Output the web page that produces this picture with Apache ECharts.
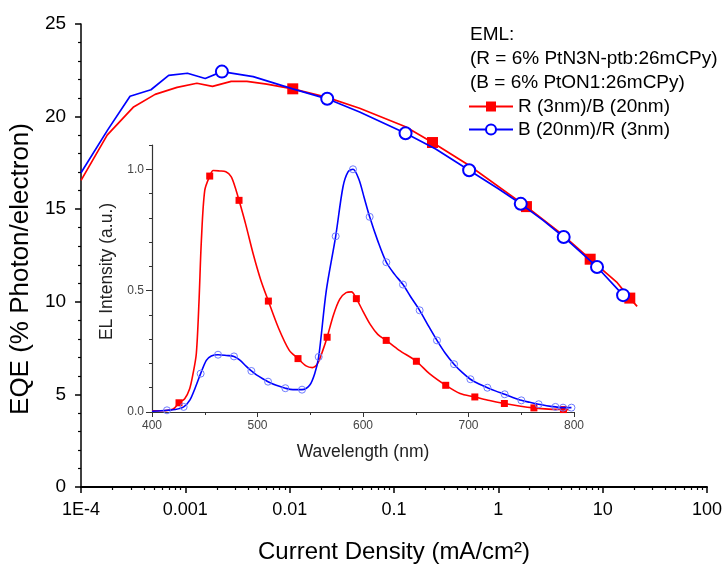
<!DOCTYPE html>
<html>
<head>
<meta charset="utf-8">
<script src="https://cdn.jsdelivr.net/npm/echarts@6/dist/echarts.min.js"></script>
<style>
  html, body { margin: 0; padding: 0; background: #fff; }
  #chart { width: 725px; height: 569px; }
</style>
</head>
<body>
<div id="chart"></div>
<script>
// ---------- Main panel: EQE vs current density ----------
const eqeJ_R = [1e-4, 1.78e-4, 3.16e-4, 5.13e-4, 8.32e-4, 1.29e-3, 1.82e-3, 2.75e-3, 3.89e-3, 6.03e-3,
                0.0107, 0.0224, 0.0468, 0.129, 0.234, 0.513, 1.86, 3.98, 7.59, 13.8, 18.2, 21.4];
const eqe_R  = [16.56, 19.0, 20.5, 21.2, 21.58, 21.8, 21.63, 21.9, 21.9, 21.75,
                21.5, 21.05, 20.45, 19.45, 18.6, 17.4, 15.14, 13.69, 12.3, 11.03, 10.2, 9.75];
const markIdx_R = [10, 14, 16, 18, 20];

const eqeJ_B = [1e-4, 1.795e-4, 2.95e-4, 4.68e-4, 6.92e-4, 1.047e-3, 1.55e-3, 2.24e-3, 4.47e-3, 0.0107,
                0.0229, 0.0468, 0.129, 0.251, 0.525, 1.0, 1.64, 2.69, 4.23, 8.83, 15.7];
const eqe_B  = [16.97, 19.27, 21.1, 21.45, 22.23, 22.34, 22.06, 22.43, 22.16, 21.5,
                20.96, 20.25, 19.1, 18.25, 17.1, 16.1, 15.29, 14.4, 13.5, 11.88, 10.36];
const markIdx_B = [7, 10, 12, 14, 16, 18, 19, 20];

const xTickLabels = {'-4': '1E-4', '-3': '0.001', '-2': '0.01', '-1': '0.1', '0': '1', '1': '10', '2': '100'};

// ---------- Inset: EL spectra ----------
const elWl_R = [400, 410, 420, 425.6, 431, 435.7, 438.9, 442, 444.5, 446.8, 450, 454.7, 458, 464, 470, 475, 478.5,
                482.5, 489, 496, 503, 510.3, 520, 530, 538.4, 546, 552, 557, 562, 566, 572, 578, 584, 589,
                593.7, 600, 607, 614, 622, 634, 650.6, 663, 678.4, 692, 706, 720, 734, 748, 762, 776, 790, 795];
const el_R   = [0.005, 0.005, 0.012, 0.038, 0.055, 0.096, 0.158, 0.24, 0.45, 0.707, 0.913, 0.972, 0.995, 0.993, 0.99, 0.97, 0.93,
                0.872, 0.77, 0.65, 0.545, 0.457, 0.345, 0.255, 0.22, 0.19, 0.183, 0.2, 0.255, 0.308, 0.4, 0.465, 0.492, 0.495,
                0.467, 0.415, 0.36, 0.32, 0.295, 0.255, 0.209, 0.158, 0.11, 0.076, 0.062, 0.047, 0.035, 0.025, 0.017, 0.012, 0.01, 0.009];
const elMark_R = [3, 11, 17, 21, 24, 29, 34, 38, 40, 42, 44, 46, 48, 50];

const elWl_B = [400, 406, 414.2, 422, 430, 436, 441, 446.1, 451.5, 456.2, 462.6, 470.5, 477.7, 483, 489.4, 494.2, 499,
                505, 510, 517.8, 526.4, 533.6, 542.2, 549.4, 554.2, 558, 565.2, 574.1, 581, 585.8, 590.5, 596, 601,
                606.3, 614, 622.1, 630, 637.9, 645, 653.7, 662, 670.1, 678, 686.3, 694, 701.8, 710, 717.9, 726, 734.3,
                742, 750.1, 758, 766.5, 774, 782.4, 789.6, 797.6];
const el_B   = [0.003, 0.004, 0.007, 0.01, 0.021, 0.05, 0.1, 0.158, 0.213, 0.231, 0.236, 0.233, 0.229, 0.215, 0.188, 0.169, 0.153,
                0.137, 0.125, 0.11, 0.098, 0.092, 0.092, 0.11, 0.158, 0.227, 0.5, 0.724, 0.927, 0.989, 1.0, 0.96, 0.885,
                0.804, 0.705, 0.617, 0.567, 0.525, 0.476, 0.419, 0.355, 0.295, 0.242, 0.197, 0.163, 0.135, 0.115, 0.1, 0.086, 0.073,
                0.06, 0.048, 0.04, 0.032, 0.026, 0.021, 0.018, 0.018];
const elMark_B = [2, 4, 7, 10, 12, 15, 18, 20, 22, 25, 27, 30, 33, 35, 37, 39, 41, 43, 45, 47, 49, 51, 53, 55, 56, 57];

// header text
const headerLines = ['EML:', '(R = 6% PtN3N-ptb:26mCPy)', '(B = 6% PtON1:26mCPy)'];

// ---------- build ----------
const FONT = '"Liberation Sans", Arial, sans-serif';
function pairs(xs, ys) { return xs.map((x, i) => [x, ys[i]]); }

// minor tick positions (axis decoration only)
const minorLogJ = [];
for (let d = -4; d < 2; d++) for (let k = 2; k <= 9; k++) minorLogJ.push(d + Math.log10(k));
const minorEQE = [];
for (let v = 1; v < 25; v++) if (v % 5 !== 0) minorEQE.push(v);
const minorWl = [450, 550, 650, 750];
const minorEL = [];
for (let i = 1; i <= 11; i++) if (i !== 5 && i !== 10) minorEL.push(i / 10);

const chart = echarts.init(document.getElementById('chart'), null, { renderer: 'canvas' });

const hiddenLine = { show: false, onZero: false };
const option = {
  animation: false,
  backgroundColor: '#fff',
  textStyle: { fontFamily: FONT },
  grid: [
    { left: 80, top: 24, width: 630, height: 469 },
    { left: 152, top: 145, width: 422, height: 267 }
  ],
  legend: {
    data: ['R (3nm)/B (20nm)', 'B (20nm)/R (3nm)'],
    orient: 'vertical',
    left: 468, top: 97,
    itemWidth: 44, itemHeight: 12.5, itemGap: 4,
    padding: 0,
    selectedMode: false,
    textStyle: { fontSize: 19, color: '#000', fontFamily: FONT }
  },
  graphic: headerLines.map((t, i) => ({
    type: 'text', x: 470, y: 35 + i * 23.7,
    style: { text: t, fill: '#000', font: '19px ' + FONT, align: 'left', verticalAlign: 'middle' }
  })),
  xAxis: [
    {
      gridIndex: 0, type: 'log', logBase: 10, min: 1e-4, max: 100, position: 'bottom',
      axisLine: { onZero: false, lineStyle: { color: '#000', width: 2 } },
      axisTick: { length: 6, lineStyle: { color: '#000', width: 1.5 } },
      splitLine: { show: false },
      axisLabel: {
        fontSize: 18, color: '#000', margin: 14, fontFamily: FONT,
        formatter: v => xTickLabels[String(Math.round(Math.log10(v)))] || ''
      },
      name: 'Current Density (mA/cm²)', nameLocation: 'middle', nameGap: 53,
      nameTextStyle: { fontSize: 24, color: '#000', fontFamily: FONT }
    },
    {
      gridIndex: 0, type: 'value', min: -4, max: 2, position: 'bottom',
      axisLine: hiddenLine,
      axisTick: { show: true, length: 3, customValues: minorLogJ, lineStyle: { color: '#000', width: 1.2 } },
      axisLabel: { show: false }, splitLine: { show: false }
    },
    {
      gridIndex: 1, type: 'value', min: 400, max: 800, interval: 100, position: 'bottom',
      axisLine: { onZero: false, lineStyle: { color: '#333', width: 1.2 } },
      axisTick: { length: 5, lineStyle: { color: '#333' } },
      splitLine: { show: false },
      axisLabel: { fontSize: 12, color: '#444', margin: 8, fontFamily: FONT },
      name: 'Wavelength (nm)', nameLocation: 'middle', nameGap: 31,
      nameTextStyle: { fontSize: 17.5, color: '#222', fontFamily: FONT }
    },
    {
      gridIndex: 1, type: 'value', min: 400, max: 800, position: 'bottom',
      axisLine: hiddenLine,
      axisTick: { show: true, length: 3, customValues: minorWl, lineStyle: { color: '#333' } },
      axisLabel: { show: false }, splitLine: { show: false }
    }
  ],
  yAxis: [
    {
      gridIndex: 0, type: 'value', min: 0, max: 25, interval: 5, position: 'left',
      axisLine: { show: true, onZero: false, lineStyle: { color: '#000', width: 1.5 } },
      axisTick: { show: true, length: 6, lineStyle: { color: '#000', width: 1.5 } },
      splitLine: { show: false },
      axisLabel: { fontSize: 19, color: '#000', margin: 15, fontFamily: FONT },
      name: 'EQE (% Photon/electron)', nameLocation: 'middle', nameGap: 42,
      nameTextStyle: { fontSize: 26, color: '#000', fontFamily: FONT, padding: [0, 27, 0, 0] }
    },
    {
      gridIndex: 0, type: 'value', min: 0, max: 25, position: 'left',
      axisLine: hiddenLine,
      axisTick: { show: true, length: 3, customValues: minorEQE, lineStyle: { color: '#000', width: 1.2 } },
      axisLabel: { show: false }, splitLine: { show: false }
    },
    {
      gridIndex: 1, type: 'value', min: 0, max: 1.1, interval: 0.5, position: 'left',
      axisLine: { show: true, onZero: false, lineStyle: { color: '#333', width: 1.2 } },
      axisTick: { show: true, length: 6, customValues: [0, 0.5, 1.0], lineStyle: { color: '#333' } },
      splitLine: { show: false },
      axisLabel: { fontSize: 12, color: '#444', margin: 8, fontFamily: FONT,
                   customValues: [0, 0.5, 1.0], formatter: v => v.toFixed(1) },
      name: 'EL Intensity (a.u.)', nameLocation: 'middle', nameGap: 31,
      nameTextStyle: { fontSize: 17.5, color: '#222', fontFamily: FONT, padding: [0, 0, 0, 14] }
    },
    {
      gridIndex: 1, type: 'value', min: 0, max: 1.1, position: 'left',
      axisLine: hiddenLine,
      axisTick: { show: true, length: 3, customValues: minorEL, lineStyle: { color: '#333' } },
      axisLabel: { show: false }, splitLine: { show: false }
    }
  ],
  series: [
    {
      name: 'R (3nm)/B (20nm)', type: 'line', xAxisIndex: 0, yAxisIndex: 0,
      data: pairs(eqeJ_R, eqe_R),
      symbol: 'rect', showAllSymbol: true,
      symbolSize: (v, p) => markIdx_R.includes(p.dataIndex) ? 11 : 0,
      lineStyle: { color: '#ff0000', width: 1.7 },
      itemStyle: { color: '#ff0000' },
      z: 3
    },
    {
      name: 'B (20nm)/R (3nm)', type: 'line', xAxisIndex: 0, yAxisIndex: 0,
      data: pairs(eqeJ_B, eqe_B),
      symbol: 'emptyCircle', showAllSymbol: true,
      symbolSize: (v, p) => markIdx_B.includes(p.dataIndex) ? 12 : 0,
      lineStyle: { color: '#0000ff', width: 1.7 },
      itemStyle: { color: '#0000ff', borderColor: '#0000ff', borderWidth: 1.6 },
      z: 4
    },
    {
      name: 'EL R (3nm)/B (20nm)', type: 'line', xAxisIndex: 2, yAxisIndex: 2,
      data: pairs(elWl_R, el_R),
      smooth: 0.3,
      symbol: 'rect', showAllSymbol: true,
      symbolSize: (v, p) => elMark_R.includes(p.dataIndex) ? 7 : 0,
      lineStyle: { color: '#ff0000', width: 1.6 },
      itemStyle: { color: '#ff0000' },
      z: 3
    },
    {
      name: 'EL B (20nm)/R (3nm)', type: 'line', xAxisIndex: 2, yAxisIndex: 2,
      data: pairs(elWl_B, el_B),
      smooth: 0.3,
      symbol: 'circle', showAllSymbol: true,
      symbolSize: (v, p) => elMark_B.includes(p.dataIndex) ? 7 : 0,
      lineStyle: { color: '#0000ff', width: 1.6 },
      itemStyle: { color: 'rgba(0,0,0,0)', borderColor: '#6e7cff', borderWidth: 1 },
      z: 4
    }
  ]
};
chart.setOption(option);
</script>
</body>
</html>
